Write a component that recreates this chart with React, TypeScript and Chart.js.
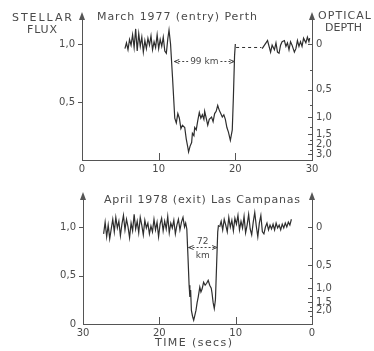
import React, { useEffect, useRef } from 'react';
import { Chart, registerables } from 'chart.js';
Chart.register(...registerables);

const W = 374;
const FONT = '"DejaVu Sans", "Liberation Sans", sans-serif';
const INK = '#2e2e2e';
const AXIS = '#555555';
const TEXT = '#4a4a4a';

// ---------- data: top panel (March 1977 entry, Perth) ----------
const topTime1 = [5.6, 5.8, 6.0, 6.2, 6.4, 6.6, 6.8, 7.0, 7.2, 7.4, 7.6, 7.8, 8.0, 8.2, 8.4, 8.6, 8.8, 9.0, 9.2, 9.4, 9.6, 9.8, 10.0, 10.2, 10.4, 10.6, 10.8, 11.0, 11.2, 11.35, 11.55, 11.8, 12.1, 12.3, 12.5, 12.7, 12.9, 13.1, 13.4, 13.6, 13.8, 13.9, 14.1, 14.3, 14.4, 14.6, 14.7, 14.9, 15.1, 15.3, 15.5, 15.7, 15.9, 16.0, 16.2, 16.4, 16.6, 16.9, 17.1, 17.3, 17.5, 17.7, 17.9, 18.1, 18.3, 18.5, 18.7, 18.9, 19.1, 19.35, 19.6, 19.75, 19.9, 20.0];
const topFlux1 = [0.96, 1.01, 0.95, 1.04, 0.99, 1.08, 0.97, 1.13, 0.94, 1.09, 0.98, 1.06, 0.93, 1.03, 0.96, 1.05, 0.99, 1.07, 0.95, 1.02, 0.97, 1.08, 0.96, 1.04, 0.98, 1.06, 0.94, 0.92, 1.05, 1.12, 1.0, 0.72, 0.36, 0.32, 0.4, 0.36, 0.27, 0.3, 0.28, 0.18, 0.11, 0.07, 0.12, 0.15, 0.23, 0.21, 0.28, 0.26, 0.34, 0.41, 0.36, 0.39, 0.35, 0.42, 0.36, 0.3, 0.35, 0.37, 0.33, 0.4, 0.42, 0.47, 0.43, 0.4, 0.37, 0.39, 0.35, 0.28, 0.24, 0.17, 0.26, 0.55, 0.9, 1.0];
const topGapTime = [20.1, 23.4];
const topGapFlux = [0.97, 0.97];
const topTime2 = [23.5, 23.8, 24.0, 24.2, 24.4, 24.6, 24.8, 25.1, 25.3, 25.5, 25.7, 25.9, 26.1, 26.4, 26.6, 26.8, 27.0, 27.2, 27.4, 27.7, 27.9, 28.1, 28.3, 28.5, 28.7, 28.9, 29.2, 29.4, 29.6, 29.7];
const topFlux2 = [0.96, 0.99, 1.01, 1.03, 0.98, 0.93, 0.99, 0.95, 1.01, 0.93, 0.92, 0.99, 1.02, 1.03, 0.98, 1.01, 0.95, 1.02, 0.99, 0.93, 0.96, 1.03, 0.98, 1.02, 0.98, 1.05, 1.01, 1.06, 1.02, 1.05];
const topSpanTime = [11.9, 20.0];
const topSpanFlux = 0.85;
const topSpanLabel = '99 km';

// ---------- data: bottom panel (April 1978 exit, Las Campanas) ----------
const botTime1 = [27.3, 27.1, 26.9, 26.7, 26.5, 26.3, 26.1, 25.9, 25.7, 25.5, 25.3, 25.1, 24.9, 24.7, 24.5, 24.3, 24.1, 23.9, 23.7, 23.5, 23.3, 23.1, 22.9, 22.7, 22.5, 22.3, 22.1, 21.9, 21.7, 21.5, 21.3, 21.1, 20.9, 20.7, 20.5, 20.3, 20.1, 19.9, 19.7, 19.5, 19.3, 19.1, 18.9, 18.7, 18.5, 18.3, 18.1, 17.9, 17.7, 17.5, 17.3, 17.1, 16.9, 16.7, 16.55, 16.4, 16.25, 16.1, 16.0, 15.9, 15.8, 15.65, 15.5, 15.35, 15.2, 15.05, 14.9, 14.7, 14.55, 14.4, 14.2, 14.0, 13.8, 13.6, 13.4, 13.2, 13.1, 12.95, 12.8, 12.65, 12.5, 12.35, 12.25];
const botFlux1 = [0.93, 1.05, 0.9, 1.02, 0.88, 0.98, 1.08, 0.95, 1.1, 0.99, 1.06, 0.91, 1.03, 1.12, 0.97, 1.08, 1.0, 0.89, 1.04, 0.96, 1.13, 0.98, 1.06, 0.94, 1.1, 1.02, 0.92, 1.07, 0.99, 1.04, 0.93, 1.01, 0.95, 1.08, 0.97, 1.05, 0.9, 1.03, 1.09, 0.96, 1.06, 0.98, 1.11, 0.94, 1.04, 0.99, 1.07, 0.93, 1.02, 1.08, 0.97, 1.05, 1.1, 1.0, 1.04, 0.98, 0.7, 0.4, 0.28, 0.35, 0.14, 0.08, 0.04, 0.09, 0.14, 0.22, 0.28, 0.38, 0.33, 0.36, 0.43, 0.4, 0.42, 0.45, 0.4, 0.37, 0.32, 0.22, 0.16, 0.25, 0.6, 0.95, 1.02];
const botTime2 = [12.1, 11.9, 11.7, 11.5, 11.3, 11.1, 10.9, 10.7, 10.5, 10.3, 10.1, 9.9, 9.7, 9.5, 9.3, 9.1, 8.9, 8.7, 8.5, 8.3, 8.1, 7.9, 7.7, 7.5, 7.3, 7.1, 6.9, 6.7, 6.5, 6.3, 6.1, 5.9, 5.7, 5.5, 5.3, 5.1, 4.9, 4.7, 4.5, 4.3, 4.1, 3.9, 3.7, 3.5, 3.3, 3.1, 2.9, 2.7];
const botFlux2 = [1.0, 1.06, 0.97, 1.08, 1.02, 0.95, 1.1, 1.0, 1.07, 0.96, 1.09, 1.03, 1.12, 0.97, 1.06, 0.99, 1.11, 0.94, 1.02, 1.13, 0.98, 0.92, 1.05, 1.15, 1.01, 0.9, 1.04, 1.12, 0.95, 0.93, 1.0, 1.04, 0.97, 1.02, 0.98, 1.03, 0.97, 1.04, 0.99, 1.02, 0.97, 1.03, 0.99, 1.04, 1.0, 1.05, 1.02, 1.08];
const botSpanTime = [16.3, 12.3];
const botSpanFlux = 0.79;

// ---------- tick labels ----------
const timeTicks = [0, 10, 20, 30];
const timeInnerTicks = [10, 20];
const fluxTicksTop = [0.5, 1.0];
const fluxTicksBottom = [0, 0.5, 1.0];
const depthTicksTop = [0, 0.5, 1.0, 1.5, 2.0, 3.0];
const depthMinorTop = [0.25, 0.75, 1.25, 1.75, 2.5];
const depthTicksBottom = [0, 0.5, 1.0, 1.5, 2.0];
const depthMinorBottom = [0.25, 0.75, 1.25, 1.75, 2.5];

const comma = (v: number) => (v === 0 ? '0' : v.toFixed(1).replace('.', ','));

type TextItem = { text: string; x1: number; x2: number; base: number; size: number };

function fitText(ctx: CanvasRenderingContext2D, t: TextItem, offY: number) {
  ctx.save();
  ctx.font = `${t.size}px ${FONT}`;
  (ctx as any).letterSpacing = '0px';
  const w0 = ctx.measureText(t.text).width;
  const ls = (t.x2 - t.x1 - w0) / Math.max(1, t.text.length - 1);
  (ctx as any).letterSpacing = `${ls}px`;
  ctx.fillStyle = TEXT;
  ctx.textAlign = 'left';
  ctx.textBaseline = 'alphabetic';
  ctx.fillText(t.text, t.x1, t.base - offY);
  ctx.restore();
}

function arrowTip(ctx: CanvasRenderingContext2D, x: number, y: number, d: number) {
  ctx.beginPath();
  ctx.moveTo(x - d * 5, y - 2);
  ctx.lineTo(x, y);
  ctx.lineTo(x - d * 5, y + 2);
  ctx.stroke();
}

type PanelCfg = {
  top: number;
  height: number;
  left: number;
  right: number;
  padTop: number;
  xAxisH: number;
  yMax: number;
  reverse: boolean;
  series: { t: number[]; f: number[]; dash?: number[] }[];
  fluxTicks: number[];
  depthTicks: number[];
  depthMinor: number[];
  texts: TextItem[];
  span: { t: number[]; f: number; labels: string[] };
};

function makeChart(canvas: HTMLCanvasElement, cfg: PanelCfg) {
  const deco = {
    id: 'deco',
    afterDraw(chart: any) {
      const ctx: CanvasRenderingContext2D = chart.ctx;
      const xs = chart.scales.x;
      const ys = chart.scales.y;
      const a = chart.chartArea;
      ctx.save();
      ctx.strokeStyle = AXIS;
      ctx.fillStyle = AXIS;
      ctx.lineWidth = 1;
      // left flux ticks (outward)
      cfg.fluxTicks.forEach((v) => {
        if (v === 0) return;
        const y = Math.round(ys.getPixelForValue(v)) + 0.5;
        ctx.beginPath();
        ctx.moveTo(a.left - 4, y);
        ctx.lineTo(a.left, y);
        ctx.stroke();
      });
      // inner time ticks
      timeInnerTicks.forEach((v) => {
        const x = Math.round(xs.getPixelForValue(v)) + 0.5;
        ctx.beginPath();
        ctx.moveTo(x, a.bottom);
        ctx.lineTo(x, a.bottom - 7);
        ctx.stroke();
      });
      // right depth ticks (inward)
      cfg.depthTicks.forEach((d) => {
        const y = Math.round(ys.getPixelForValue(Math.exp(-d))) + 0.5;
        ctx.beginPath();
        ctx.moveTo(a.right - 4, y);
        ctx.lineTo(a.right, y);
        ctx.stroke();
      });
      cfg.depthMinor.forEach((d) => {
        const y = Math.round(ys.getPixelForValue(Math.exp(-d))) + 0.5;
        ctx.beginPath();
        ctx.moveTo(a.right - 2, y);
        ctx.lineTo(a.right, y);
        ctx.stroke();
      });
      // axis arrowheads
      [a.left, a.right].forEach((x) => {
        ctx.beginPath();
        ctx.moveTo(x, a.top - 3);
        ctx.lineTo(x - 3, a.top + 5);
        ctx.lineTo(x + 3, a.top + 5);
        ctx.closePath();
        ctx.fill();
      });
      // dimension span
      const p1 = xs.getPixelForValue(cfg.span.t[0]);
      const p2 = xs.getPixelForValue(cfg.span.t[1]);
      const L = Math.min(p1, p2);
      const R = Math.max(p1, p2);
      const yS = Math.round(ys.getPixelForValue(cfg.span.f)) + 0.5;
      const mid = (L + R) / 2;
      ctx.strokeStyle = '#444';
      ctx.setLineDash([2, 2]);
      ctx.font = `9px ${FONT}`;
      ctx.fillStyle = TEXT;
      ctx.textAlign = 'center';
      if (cfg.span.labels.length === 1) {
        const tw = ctx.measureText(cfg.span.labels[0]).width;
        ctx.beginPath();
        ctx.moveTo(L + 1, yS);
        ctx.lineTo(mid - tw / 2 - 2, yS);
        ctx.moveTo(mid + tw / 2 + 2, yS);
        ctx.lineTo(R - 1, yS);
        ctx.stroke();
        ctx.textBaseline = 'middle';
        ctx.fillText(cfg.span.labels[0], mid, yS);
      } else {
        ctx.beginPath();
        ctx.moveTo(L + 1, yS);
        ctx.lineTo(R - 1, yS);
        ctx.stroke();
        ctx.textBaseline = 'alphabetic';
        ctx.fillText(cfg.span.labels[0], mid, yS - 4);
        ctx.fillText(cfg.span.labels[1], mid, yS + 10);
      }
      ctx.setLineDash([]);
      arrowTip(ctx, L + 1, yS, -1);
      arrowTip(ctx, R - 1, yS, 1);
      ctx.restore();
      cfg.texts.forEach((t) => fitText(ctx, t, cfg.top));
    },
  };

  const datasets = cfg.series.map((s) => ({
    data: s.t.map((t, i) => ({ x: t, y: s.f[i] })),
    borderColor: INK,
    borderWidth: s.dash ? 1 : 1.2,
    borderDash: s.dash || [],
    pointRadius: 0,
    tension: 0,
    fill: false,
    xAxisID: 'x',
    yAxisID: 'y',
  }));

  const tickFont = { family: FONT, size: 10 };

  return new Chart(canvas, {
    type: 'line',
    data: { datasets },
    plugins: [deco],
    options: {
      animation: false,
      responsive: false,
      maintainAspectRatio: false,
      events: [],
      layout: { padding: { top: cfg.padTop, left: 0, right: 0, bottom: 0 } },
      plugins: { legend: { display: false }, tooltip: { enabled: false }, title: { display: false } },
      scales: {
        x: {
          type: 'linear',
          min: 0,
          max: 30,
          reverse: cfg.reverse,
          afterBuildTicks: (s: any) => {
            s.ticks = timeTicks.map((v) => ({ value: v }));
          },
          afterFit: (s: any) => {
            s.height = cfg.xAxisH;
          },
          ticks: { callback: (v: any) => String(v), font: tickFont, color: TEXT, padding: 3, autoSkip: false, maxRotation: 0 },
          grid: { display: false, drawTicks: false },
          border: { display: true, color: AXIS, width: 1 },
        },
        y: {
          type: 'linear',
          position: 'left',
          min: 0,
          max: cfg.yMax,
          afterBuildTicks: (s: any) => {
            s.ticks = cfg.fluxTicks.map((v) => ({ value: v }));
          },
          afterFit: (s: any) => {
            s.width = cfg.left;
          },
          ticks: { callback: (v: any) => comma(Number(v)), font: tickFont, color: TEXT, padding: 7, autoSkip: false },
          grid: { display: false, drawTicks: false },
          border: { display: true, color: AXIS, width: 1 },
        },
        y2: {
          type: 'linear',
          position: 'right',
          min: 0,
          max: cfg.yMax,
          afterBuildTicks: (s: any) => {
            s.ticks = cfg.depthTicks.map((d) => ({ value: Math.exp(-d) }));
          },
          afterFit: (s: any) => {
            s.width = W - cfg.right;
          },
          ticks: {
            callback: (_v: any, i: number) => comma(cfg.depthTicks[i]),
            font: tickFont,
            color: TEXT,
            padding: 4,
            autoSkip: false,
          },
          grid: { display: false, drawTicks: false },
          border: { display: true, color: AXIS, width: 1 },
        },
      },
    } as any,
  });
}

const topCfg: PanelCfg = {
  top: 0,
  height: 175,
  left: 82,
  right: 312,
  padTop: 15,
  xAxisH: 15,
  yMax: 1.25,
  reverse: false,
  series: [
    { t: topTime1, f: topFlux1 },
    { t: topGapTime, f: topGapFlux, dash: [3, 3] },
    { t: topTime2, f: topFlux2 },
  ],
  fluxTicks: fluxTicksTop,
  depthTicks: depthTicksTop,
  depthMinor: depthMinorTop,
  texts: [
    { text: 'STELLAR', x1: 12, x2: 72, base: 21, size: 11 },
    { text: 'FLUX', x1: 27, x2: 57, base: 33, size: 11 },
    { text: 'March 1977 (entry) Perth', x1: 97, x2: 257, base: 20, size: 11 },
    { text: 'OPTICAL', x1: 318, x2: 371, base: 19, size: 11 },
    { text: 'DEPTH', x1: 325, x2: 362, base: 31, size: 11 },
  ],
  span: { t: topSpanTime, f: topSpanFlux, labels: [topSpanLabel] },
};

const botCfg: PanelCfg = {
  top: 175,
  height: 176,
  left: 83,
  right: 312,
  padTop: 20,
  xAxisH: 27,
  yMax: 1.33,
  reverse: true,
  series: [
    { t: botTime1, f: botFlux1 },
    { t: botTime2, f: botFlux2 },
  ],
  fluxTicks: fluxTicksBottom,
  depthTicks: depthTicksBottom,
  depthMinor: depthMinorBottom,
  texts: [
    { text: 'April 1978 (exit) Las Campanas', x1: 104, x2: 300, base: 203, size: 11 },
    { text: 'TIME (secs)', x1: 155, x2: 232, base: 346, size: 11 },
  ],
  span: { t: botSpanTime, f: botSpanFlux, labels: ['72', 'km'] },
};

function Panel({ cfg }: { cfg: PanelCfg }) {
  const ref = useRef<HTMLCanvasElement | null>(null);
  useEffect(() => {
    if (!ref.current) return;
    const c = makeChart(ref.current, cfg);
    return () => c.destroy();
  }, [cfg]);
  return (
    <canvas
      ref={ref}
      width={W}
      height={cfg.height}
      style={{ position: 'absolute', left: 0, top: cfg.top, width: W, height: cfg.height }}
    />
  );
}

export default function App() {
  return (
    <div style={{ position: 'absolute', left: 0, top: 0, width: W, height: 351, background: '#fff', overflow: 'hidden' }}>
      <Panel cfg={topCfg} />
      <Panel cfg={botCfg} />
    </div>
  );
}
